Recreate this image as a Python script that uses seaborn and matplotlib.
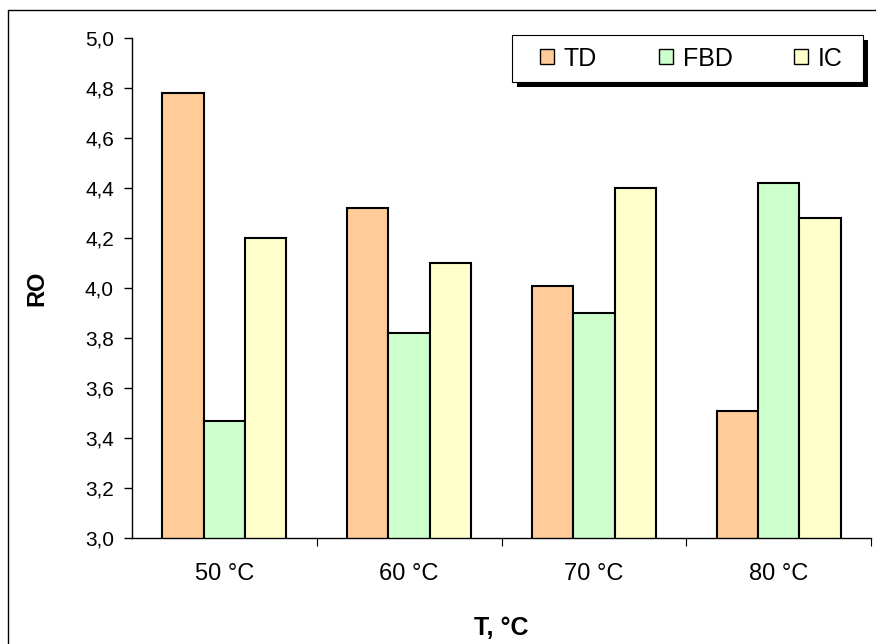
import pandas as pd
import matplotlib
matplotlib.use("Agg")
import matplotlib.pyplot as plt
from matplotlib.lines import Line2D
from matplotlib.patches import Rectangle
from matplotlib.ticker import FixedLocator, FuncFormatter
import seaborn as sns

# data
temps = ["50 °C", "60 °C", "70 °C", "80 °C"]
td = [4.78, 4.32, 4.01, 3.51]
fbd = [3.47, 3.82, 3.90, 4.42]
ic = [4.20, 4.10, 4.40, 4.28]
methods = ["TD", "FBD", "IC"]
colors = ["#FFCC99", "#CCFFCC", "#FFFFCC"]

df = pd.DataFrame({
    "T": temps * 3,
    "method": ["TD"] * 4 + ["FBD"] * 4 + ["IC"] * 4,
    "RO": td + fbd + ic,
})

sns.set_style("ticks")
plt.rcParams["font.family"] = ["Liberation Sans", "DejaVu Sans"]
for k in ["text.color", "axes.labelcolor", "xtick.color", "ytick.color", "axes.edgecolor"]:
    plt.rcParams[k] = "black"

fig = plt.figure(figsize=(8.76, 6.44), dpi=100)
ax = fig.add_axes([132 / 876, 1 - 538 / 644, 739 / 876, 500 / 644])

sns.barplot(data=df, x="T", y="RO", hue="method", hue_order=methods,
            palette=colors, width=0.67, gap=0, edgecolor="black",
            linewidth=1.5, saturation=1, ax=ax)

ax.set_ylim(3.0, 5.0)
ax.set_xlim(-0.5, 3.5)
ax.set_yticks([3.0 + 0.2 * i for i in range(11)])
ax.yaxis.set_major_formatter(FuncFormatter(lambda v, p: f"{v:.1f}".replace(".", ",")))
ax.tick_params(axis="y", labelsize=15, length=6, width=1, direction="out", pad=7)
ax.tick_params(axis="x", which="major", length=0, labelsize=17, pad=18)
ax.xaxis.set_minor_locator(FixedLocator([0.5, 1.5, 2.5, 3.5]))
ax.tick_params(axis="x", which="minor", length=6, width=0.8, direction="out")

for s in ["top", "right"]:
    ax.spines[s].set_visible(False)
ax.spines["left"].set_linewidth(1)
ax.spines["bottom"].set_linewidth(1)

ax.set_ylabel("RO", fontsize=17, fontweight="bold", labelpad=26)
ax.set_xlabel("T, °C", fontsize=18, fontweight="bold", labelpad=22)

# legend box with a solid black shadow, drawn separately for wider side padding
box_x, box_y, box_w, box_h = 0.514, 0.912, 0.475, 0.094
ax.add_patch(Rectangle((box_x + 0.007, box_y - 0.010), box_w, box_h,
                       transform=ax.transAxes, facecolor="black",
                       edgecolor="none", clip_on=False, zorder=4.8))
ax.add_patch(Rectangle((box_x, box_y), box_w, box_h, transform=ax.transAxes,
                       facecolor="white", edgecolor="black", lw=0.8,
                       clip_on=False, zorder=4.9))

handles, labels = ax.get_legend_handles_labels()
leg = ax.legend(handles, labels, ncol=3, loc="center",
                bbox_to_anchor=(0.552, box_y, 0.41, box_h), mode="expand",
                borderaxespad=0, borderpad=0, fontsize=18, frameon=False,
                handlelength=0.55, handleheight=0.55, handletextpad=0.4)
leg.set_zorder(5)
for h in leg.legend_handles:
    h.set_linewidth(1)

# outer chart border (left and top edges visible)
fig.add_artist(Line2D([8 / 876, 8 / 876], [0, 1 - 10 / 644], color="black", lw=1))
fig.add_artist(Line2D([8 / 876, 1], [1 - 10 / 644, 1 - 10 / 644], color="black", lw=1))

fig.savefig("out.png", dpi=100)
